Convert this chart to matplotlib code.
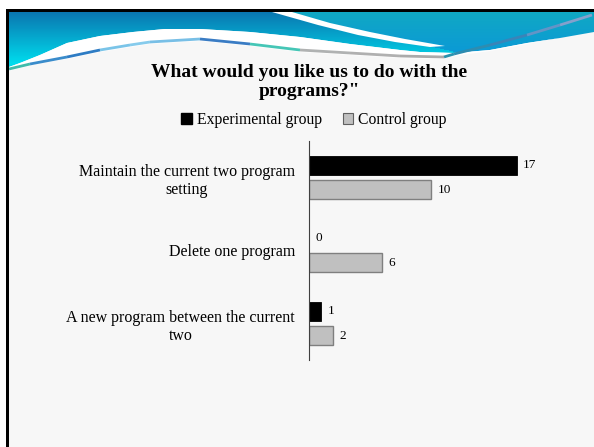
import numpy as np
import matplotlib.pyplot as plt
from matplotlib.patches import Rectangle, Polygon
from matplotlib.collections import LineCollection

categories = ["Maintain the current two program\nsetting",
              "Delete one program",
              "A new program between the current\ntwo"]
experimental = [17, 0, 1]
control = [10, 6, 2]
series_names = ["Experimental group", "Control group"]
title = "What would you like us to do with the\nprograms?\""

W, H = 594, 447
SERIF = ["Liberation Serif", "DejaVu Serif"]

fig = plt.figure(figsize=(W / 100, H / 100), dpi=100)
fig.patch.set_facecolor("white")

# slide background, drawn in pixel coordinates
bg = fig.add_axes([0, 0, 1, 1], zorder=0)
bg.set_xlim(0, W)
bg.set_ylim(H, 0)
bg.axis("off")

bg.add_patch(Rectangle((6, 9), W - 6, H - 9, facecolor="#f7f7f7", edgecolor="none"))

# blue header swoosh with a colour gradient
lower = [(594, 32), (560, 38), (527, 43), (490, 50), (454, 53), (420, 52),
         (400, 50), (350, 44), (300, 37), (250, 32), (200, 29), (165, 29),
         (133, 32), (100, 36), (67, 43), (40, 55), (20, 63), (9, 67)]
swoosh = [(9, 12), (594, 12)] + lower
clip = Polygon(swoosh, closed=True, transform=bg.transData, facecolor="none", edgecolor="none")
bg.add_patch(clip)

yy, xx = np.mgrid[12:70, 9:594].astype(float)
t = np.clip((yy - 12) / 50.0, 0, 1)[..., None]
stripe_x = 277 + (yy - 12) * 4.5
left_top = np.array([10, 118, 176]) / 255
left_bot = np.array([0, 218, 236]) / 255
right_top = np.array([16, 168, 196]) / 255
right_bot = np.array([10, 150, 218]) / 255
left = left_top * (1 - t) + left_bot * t
right = right_top * (1 - t) + right_bot * t
is_right = (xx > stripe_x)[..., None]
grad = np.where(is_right, right, left)
img = bg.imshow(grad, extent=(9, 594, 70, 12), origin="upper", aspect="auto",
                interpolation="bilinear", zorder=1)
img.set_clip_path(clip)

white_band = [(272, 12), (292, 12), (330, 23), (370, 32), (405, 39), (445, 46),
              (430, 47), (395, 42), (358, 35), (318, 25)]
bg.add_patch(Polygon(white_band, closed=True, facecolor="white", edgecolor="none", zorder=2))

# bright area between the swoosh and the ribbon
under_bottom = [(9, 71), (40, 63), (67, 59), (100, 52), (150, 44), (200, 41),
                (250, 46), (300, 52), (350, 55), (400, 58), (444, 59), (454, 56),
                (490, 51), (527, 44), (560, 38), (594, 32)]
under = lower[::-1] + under_bottom[::-1]
bg.add_patch(Polygon(under, closed=True, facecolor="white", edgecolor="none", zorder=1.5))

# thin decorative ribbon along the swoosh
ribbon = np.array([(9, 69), (30, 64), (67, 57), (100, 50), (130, 45), (150, 42),
                   (200, 39), (250, 44), (300, 50), (350, 53), (400, 56), (444, 57),
                   (454, 54), (490, 45), (527, 35), (560, 25), (592, 15)])
segs = [ribbon[i:i + 2] for i in range(len(ribbon) - 1)]
seg_colors = ["#3fbcaa", "#3a8ccb", "#2e7cc4", "#7ac4e8", "#86cbec", "#78bfe6",
              "#3a7cc4", "#45c6b6", "#b0b2b2", "#b0b0b0", "#aaaaaa",
              "#2a92ae", "#2e8cb0", "#3a84b8", "#6394c6", "#84a0cc"]
bg.add_collection(LineCollection(segs, colors=seg_colors, linewidths=2.0, zorder=3))

# slide frame
bg.add_patch(Rectangle((6, 9), W - 6, 3, facecolor="black", edgecolor="none", zorder=4))
bg.add_patch(Rectangle((6, 9), 3, H - 9, facecolor="black", edgecolor="none", zorder=4))

# title and legend
fig.text(309 / W, 1 - 82 / H, title, ha="center", va="center", ma="center",
         fontsize=14, fontweight="bold", family=SERIF, linespacing=1.2)

# bar chart
ax_left, ax_right, ax_top, ax_bottom = 309, 560, 141, 360
ax = fig.add_axes([ax_left / W, 1 - ax_bottom / H, (ax_right - ax_left) / W,
                   (ax_bottom - ax_top) / H], zorder=5)
ax.patch.set_alpha(0)
px_per_unit = 12.24
ax.set_xlim(0, (ax_right - ax_left) / px_per_unit)
ax.set_ylim(len(categories) - 0.5, -0.5)

pos = np.arange(len(categories))
bar_h = 0.27
off = 0.165
b1 = ax.barh(pos - off, experimental, height=bar_h, color="black", edgecolor="black",
             linewidth=0.6, label=series_names[0])
b2 = ax.barh(pos + off, control, height=bar_h, color="#c0c0c0", edgecolor="#7f7f7f",
             linewidth=1.0, label=series_names[1])

for bars, vals in ((b1, experimental), (b2, control)):
    for rect, v in zip(bars, vals):
        y = rect.get_y() + rect.get_height() / 2
        ax.text(v + 0.5, y, str(v), ha="left", va="center", fontsize=9.5, family=SERIF)

ax.set_yticks(pos)
ax.set_yticklabels(categories, fontsize=11.5, family=SERIF)
for lbl in ax.get_yticklabels():
    lbl.set_multialignment("center")
ax.tick_params(axis="y", length=0, pad=10)
ax.set_xticks([])
for side in ("top", "right", "bottom"):
    ax.spines[side].set_visible(False)
ax.spines["left"].set_color("#404040")
ax.spines["left"].set_linewidth(0.8)

handles = [Rectangle((0, 0), 1, 1, facecolor="black", edgecolor="black"),
           Rectangle((0, 0), 1, 1, facecolor="#c0c0c0", edgecolor="#606060", linewidth=0.8)]
fig.legend(handles, series_names, loc="center", bbox_to_anchor=(314 / W, 1 - 120 / H),
           ncol=2, frameon=False, handlelength=0.7, handleheight=0.7,
           handletextpad=0.3, columnspacing=1.3,
           prop={"family": SERIF, "size": 11.3})

fig.savefig("out.png", dpi=100)
